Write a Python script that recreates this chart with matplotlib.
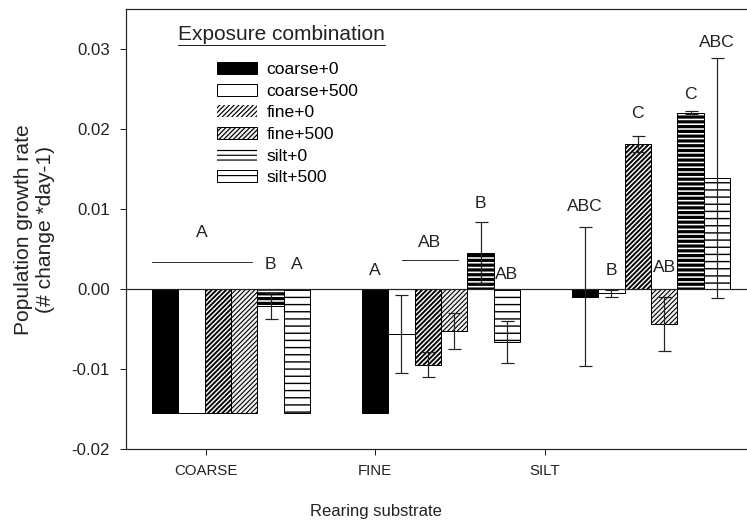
import numpy as np
import matplotlib
matplotlib.use('Agg')
import matplotlib.pyplot as plt
from matplotlib.patches import Patch

DPI = 86
PT = 72 / DPI  # points per pixel

plt.rcParams['font.family'] = ['Liberation Sans', 'DejaVu Sans']

substrates = ['COARSE', 'FINE', 'SILT']
treatments = ['coarse+0', 'coarse+500', 'fine+0', 'fine+500', 'silt+0', 'silt+500']

# mean growth rate per treatment, one value per rearing substrate
coarse_0 = [-0.0154, -0.0155, -0.0009]
coarse_500 = [-0.0154, -0.0056, -0.0005]
fine_0 = [-0.0154, -0.0094, 0.0182]
fine_500 = [-0.0154, -0.0052, -0.0043]
silt_0 = [-0.0021, 0.0046, 0.0221]
silt_500 = [-0.0154, -0.0066, 0.0139]

# standard errors (nan = not shown)
nan = np.nan
coarse_0_se = [nan, nan, 0.0087]
coarse_500_se = [nan, 0.0049, 0.0004]
fine_0_se = [nan, 0.0016, 0.0010]
fine_500_se = [nan, 0.0023, 0.0034]
silt_0_se = [0.0016, 0.0038, 0.0002]
silt_500_se = [nan, 0.0026, 0.0150]

means = [coarse_0, coarse_500, fine_0, fine_500, silt_0, silt_500]
errs = [coarse_0_se, coarse_500_se, fine_0_se, fine_500_se, silt_0_se, silt_500_se]

# post-hoc letters over single bars, per substrate
bar_letters = [['', '', '', '', 'B', 'A'],
               ['A', '', '', '', 'B', 'AB'],
               ['ABC', 'B', 'C', 'AB', 'C', 'ABC']]
letter_y = [[nan, nan, nan, nan, 0.0031, 0.0031],
            [0.0023, nan, nan, nan, 0.0107, 0.0018],
            [0.0104, 0.0024, 0.0220, 0.0027, 0.0244, 0.0308]]
# letters shared by a run of bars: (label, x from, x to, letter y, line y)
group_letters = [('A', -0.378, 0.098, 0.0071, 0.0034),
                 ('AB', 0.813, 1.082, 0.0058, 0.0037)]

xtick_pos = [-0.119, 0.686, 1.495]

# hatch line widths given in pixels
styles = [dict(facecolor='black', hatch=None, hlw=1.0, legend_edge=True),
          dict(facecolor='white', hatch=None, hlw=1.0, legend_edge=True),
          dict(facecolor='white', hatch='//////', hlw=1.9, legend_edge=False),
          dict(facecolor='#f2f2f2', hatch='//////', hlw=1.1, legend_edge=True),
          dict(facecolor='white', hatch='---', hlw=3.2, legend_edge=False),
          dict(facecolor='white', hatch='--', hlw=1.4, legend_edge=True)]

fig = plt.figure(figsize=(747 / DPI, 525 / DPI), dpi=DPI)
ax = fig.add_axes([126 / 747, 1 - 449.3 / 525, 630 / 747, 440 / 525])

bw = 0.1257
x = np.arange(len(substrates))
handles = []
for i, (m, e, st) in enumerate(zip(means, errs, styles)):
    pos = x + (i - 2.5) * bw
    bars = ax.bar(pos, m, bw, facecolor=st['facecolor'], edgecolor='black',
                  linewidth=1.0 * PT, hatch=st['hatch'], zorder=2)
    for b in bars:
        b.set_hatch_linewidth(st['hlw'] * PT)
    ax.errorbar(pos, m, yerr=e, fmt='none', ecolor='#222222', elinewidth=1.2 * PT,
                capsize=6.5 * PT, capthick=1.2 * PT, zorder=3)
    h = Patch(facecolor=st['facecolor'], edgecolor='black',
              linewidth=(1.0 * PT if st['legend_edge'] else 0),
              hatch=st['hatch'], label=treatments[i])
    h.set_hatch_linewidth(st['hlw'] * PT)
    handles.append(h)

ax.axhline(0, color='#222222', lw=1.2 * PT, zorder=4)

lfs = 17.5 * PT
for g in range(len(substrates)):
    for i in range(len(treatments)):
        if bar_letters[g][i]:
            ax.text(g + (i - 2.5) * bw, letter_y[g][i], bar_letters[g][i],
                    ha='center', va='center', fontsize=lfs, color='#222222')
for lab, x0, x1, ty, ly in group_letters:
    ax.plot([x0, x1], [ly, ly], color='#333333', lw=1.0 * PT)
    ax.text((x0 + x1) / 2, ty, lab, ha='center', va='center', fontsize=lfs,
            color='#222222')

ax.set_xlim(-0.5, 2.5)
ax.set_ylim(-0.02, 0.035)
ax.set_yticks(np.arange(-0.02, 0.031, 0.01))
ax.set_yticklabels(['%.2f' % v for v in np.arange(-0.02, 0.031, 0.01)])
ax.set_xticks(xtick_pos)
ax.set_xticklabels(substrates)
ax.tick_params(axis='y', direction='out', length=6 * PT, width=1 * PT,
               pad=10 * PT, labelsize=16.8 * PT, colors='#222222')
ax.tick_params(axis='x', direction='out', length=6 * PT, width=1 * PT,
               pad=9 * PT, labelsize=15 * PT, colors='#222222')
ax.spines['right'].set_visible(False)
for s in ['left', 'bottom', 'top']:
    ax.spines[s].set_linewidth(1.2 * PT)
    ax.spines[s].set_color('#222222')

ax.set_ylabel('Population growth rate\n(# change *day-1)', fontsize=21 * PT,
              va='center', color='#222222')
ax.yaxis.set_label_coords((35 - 126) / 630, 0.5)
ax.set_xlabel('Rearing substrate', fontsize=16.7 * PT, va='center', color='#222222')
ax.xaxis.set_label_coords((375.5 - 126) / 630, (449.3 - 511.7) / 440)

# legend with an underlined heading
fig.text(281.5 / 747, 1 - 35 / 525, 'Exposure combination', ha='center',
         va='center', fontsize=20.9 * PT, color='#222222')
fig.add_artist(plt.Line2D([177.7 / 747, 385 / 747], [1 - 44.5 / 525, 1 - 44.5 / 525],
                          color='#222222', lw=1.0 * PT))
fig.legend(handles=handles, loc='upper left',
           bbox_to_anchor=(216.7 / 747, 1 - 62 / 525), frameon=False,
           fontsize=lfs, handlelength=40 / 17.5, handleheight=12 / 17.5,
           handletextpad=10 / 17.5, labelspacing=0.37, borderpad=0,
           borderaxespad=0)

fig.savefig('out.png', dpi=DPI)
